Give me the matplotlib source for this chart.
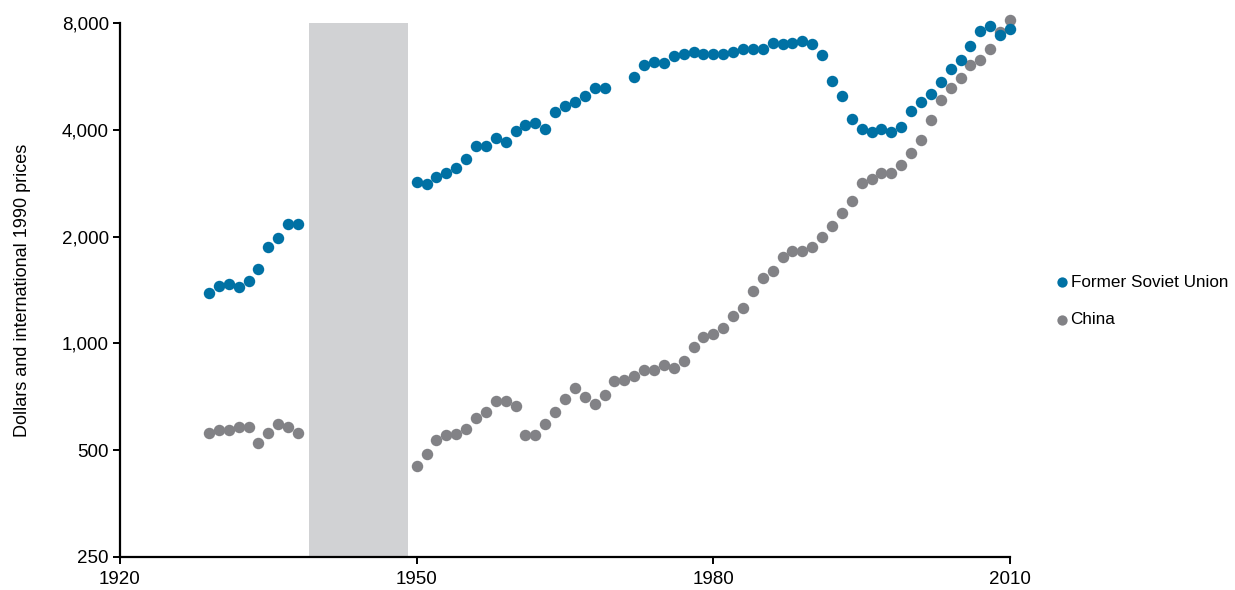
import numpy as np
import matplotlib
matplotlib.use("Agg")
import matplotlib.pyplot as plt
from matplotlib.ticker import FixedLocator, FuncFormatter, NullLocator

plt.rcParams['font.family'] = ['Liberation Sans', 'DejaVu Sans']

# GDP per capita, dollars at international 1990 prices
ussr_years = list(range(1929, 1939)) + list(range(1950, 1970)) + list(range(1972, 2011))
ussr = [1391, 1455, 1474, 1440, 1498, 1625, 1866, 1985, 2166, 2166,
        2845, 2808, 2950, 3022, 3115, 3309, 3595, 3595, 3802, 3697,
        3977, 4126, 4188, 4029, 4498, 4677, 4800, 4990, 5243, 5236,
        5632, 6078, 6208, 6180, 6446, 6542, 6628, 6542, 6542, 6542,
        6641, 6771, 6771, 6771, 7027, 6995, 7027, 7140, 6995, 6513,
        5500, 4981, 4291, 4029, 3935, 4029, 3935, 4082, 4520, 4800,
        5054, 5444, 5925, 6293, 6891, 7580, 7861, 7415, 7680]

china_years = list(range(1929, 1939)) + list(range(1950, 2011))
china = [560, 571, 571, 582, 582, 525, 560, 594, 582, 560,
         451, 487, 533, 552, 556, 573, 617, 640, 689, 689,
         664, 552, 552, 594, 640, 699, 751, 707, 674, 715,
         785, 791,
         810, 840, 840, 871, 853, 894, 975, 1045, 1065, 1105,
         1192, 1259, 1403, 1526, 1603, 1753, 1819, 1819, 1866, 1998,
         2139, 2335, 2514, 2838, 2912, 3022, 3022, 3190, 3434, 3738,
         4254, 4855, 5236, 5587, 6078, 6293, 6745, 7545, 8173]

war_start, war_end = 1939.1, 1949.1
yticks = [250, 500, 1000, 2000, 4000, 8000]
xticks = [1920, 1950, 1980, 2010]

blue = '#0071a4'
grey = '#828286'

fig = plt.figure(figsize=(12.35, 5.9), dpi=100)
ax = fig.add_axes([120 / 1235, 33 / 590, 890 / 1235, 534 / 590])

ax.axvspan(war_start, war_end, color='#d1d2d4', lw=0, zorder=0)
h_china = ax.scatter(china_years, china, s=68, color=grey, lw=0, zorder=2,
                     clip_on=False, label='China')
h_ussr = ax.scatter(ussr_years, ussr, s=68, color=blue, lw=0, zorder=3,
                    clip_on=False, label='Former Soviet Union')

ax.set_yscale('log', base=2)
ax.set_ylim(250, 8000)
ax.set_xlim(1920, 2010)
ax.yaxis.set_major_locator(FixedLocator(yticks))
ax.yaxis.set_major_formatter(FuncFormatter(lambda v, p: f'{int(v):,}'))
ax.yaxis.set_minor_locator(NullLocator())
ax.set_xticks(xticks)

for s in ['top', 'right']:
    ax.spines[s].set_visible(False)
for s in ['left', 'bottom']:
    ax.spines[s].set_linewidth(1.6)
ax.tick_params(axis='both', direction='out', length=5, width=1.4,
               labelsize=13.5, colors='black')
ax.tick_params(axis='y', pad=3)
ax.tick_params(axis='x', pad=5)

ax.set_ylabel('Dollars and international 1990 prices', fontsize=13, labelpad=22)

fig.legend([h_ussr, h_china], ['Former Soviet Union', 'China'],
           loc='center left', bbox_to_anchor=(1056 / 1235, 1 - 301 / 590),
           frameon=False, fontsize=12.3, handlelength=0.7, handletextpad=0.15,
           labelspacing=1.3, markerscale=0.9, borderpad=0, borderaxespad=0)

fig.savefig('out.png', dpi=100)
